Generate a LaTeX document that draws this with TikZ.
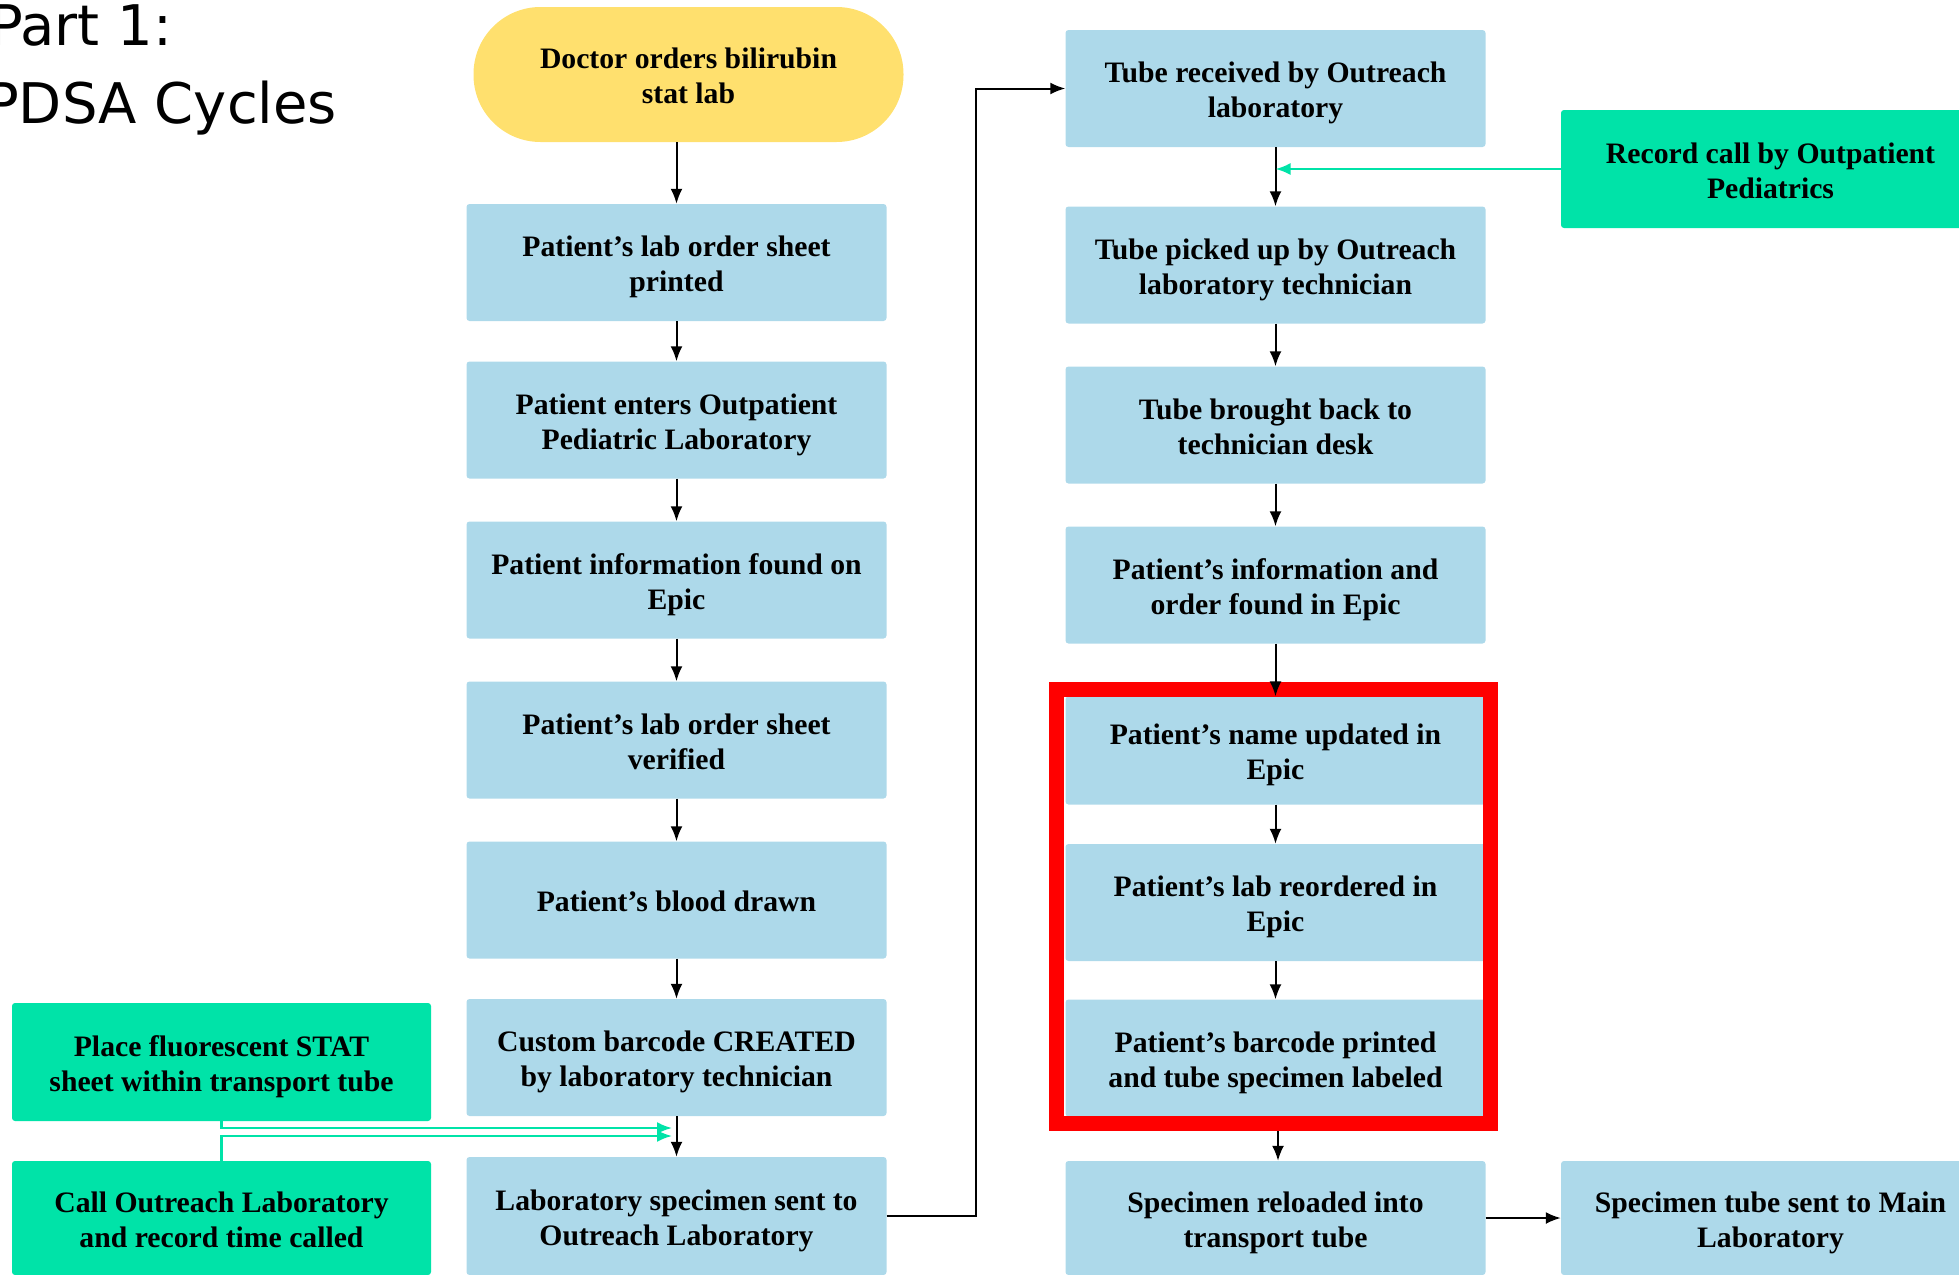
\documentclass[tikz,border=0pt]{standalone}
\usepackage{fontspec}
\setmainfont{Liberation Serif}
\newfontfamily\titlefont{DejaVu Sans}
\usetikzlibrary{arrows.meta}
\definecolor{boxblue}{RGB}{173,217,234}
\definecolor{boxgreen}{RGB}{0,227,168}
\definecolor{ovalyellow}{RGB}{255,224,110}
\newcommand{\twolines}[2]{\rule{0pt}{32pt}#1\\#2\rule[-9pt]{0pt}{9pt}}
\newcommand{\oneline}[1]{\rule{0pt}{32pt}#1\rule[-9pt]{0pt}{9pt}}

\begin{document}
\begin{tikzpicture} [x=1pt, y=-1pt,
  flow/.style={rectangle, rounded corners=3pt, fill=boxblue, minimum width=420pt,
    minimum height=117pt, inner sep=0pt, align=center,
    font=\bfseries\fontsize{29.7}{35}\selectfont},
  greenbox/.style={flow, fill=boxgreen},
  arr/.style={-{Latex[length=15pt,width=12pt]}, line width=2pt},
  garr/.style={arr, draw=boxgreen, line width=2.2pt}]
\clip (0,0) rectangle (1959,1274);
\coordinate (A) at (688.5,74.5);
\coordinate (B) at (676.5,262.5);
\coordinate (C) at (676.5,420);
\coordinate (D) at (676.5,580);
\coordinate (E) at (676.5,740);
\coordinate (F) at (676.5,900);
\coordinate (G) at (676.5,1057.5);
\coordinate (H) at (676.5,1216);
\coordinate (I) at (1275.5,88.5);
\coordinate (J) at (1275.5,265);
\coordinate (K) at (1275.5,425);
\coordinate (L) at (1275.5,585);
\coordinate (M) at (1275.5,750.5);
\coordinate (N) at (1275.5,902.5);
\coordinate (O) at (1275.5,1058);
\coordinate (P) at (1275.5,1218);
\coordinate (Q) at (1770.5,169);
\coordinate (R) at (1770.5,1218);
\coordinate (S) at (221.5,1062);
\coordinate (T) at (221.5,1218);
\coordinate (U) at (976,88.5);
\coordinate (V) at (672,1128);
\coordinate (W) at (672,1136);

\node [anchor=base west, inner sep=0pt, font=\titlefont\fontsize{56}{60}\selectfont] (T1) at (-11,45) {Part 1:};
\node [anchor=base west, inner sep=0pt, font=\titlefont\fontsize{56}{60}\selectfont] (T2) at (-15,123) {PDSA Cycles};

\node [flow, fill=ovalyellow, rounded corners=67pt, minimum width=430pt, minimum height=135pt] (Y) at (A) {\twolines{Doctor orders bilirubin}{stat lab}};
\node [flow] (L1) at (B) {\twolines{Patient’s lab order sheet}{printed}};
\node [flow] (L2) at (C) {\twolines{Patient enters Outpatient}{Pediatric Laboratory}};
\node [flow] (L3) at (D) {\twolines{Patient information found on}{Epic}};
\node [flow] (L4) at (E) {\twolines{Patient’s lab order sheet}{verified}};
\node [flow] (L5) at (F) {\oneline{Patient’s blood drawn}};
\node [flow] (L6) at (G) {\twolines{Custom barcode CREATED}{by laboratory technician}};
\node [flow, minimum height=118pt] (L7) at (H) {\twolines{Laboratory specimen sent to}{Outreach Laboratory}};
\node [flow] (R1) at (I) {\twolines{Tube received by Outreach}{laboratory}};
\node [flow] (R2) at (J) {\twolines{Tube picked up by Outreach}{laboratory technician}};
\node [flow] (R3) at (K) {\twolines{Tube brought back to}{technician desk}};
\node [flow] (R4) at (L) {\twolines{Patient’s information and}{order found in Epic}};
\node [flow, minimum height=108pt] (R5) at (M) {\twolines{Patient’s name updated in}{Epic}};
\node [flow] (R6) at (N) {\twolines{Patient’s lab reordered in}{Epic}};
\node [flow] (R7) at (O) {\twolines{Patient’s barcode printed}{and tube specimen labeled}};
\node [flow, minimum height=114pt] (R8) at (P) {\twolines{Specimen reloaded into}{transport tube}};
\node [greenbox, minimum width=419pt, minimum height=118pt] (G3) at (Q) {\twolines{Record call by Outpatient}{Pediatrics}};
\node [flow, minimum width=419pt, minimum height=114pt] (R9) at (R) {\twolines{Specimen tube sent to Main}{Laboratory}};
\node [greenbox, minimum width=419pt, minimum height=118pt] (G1) at (S) {\twolines{Place fluorescent STAT}{sheet within transport tube}};
\node [greenbox, minimum width=419pt, minimum height=114pt] (G2) at (T) {\twolines{Call Outreach Laboratory}{and record time called}};

\draw [red, line width=15pt] (1056.5,689) rectangle (1490.5,1123.5);

\draw [arr] (Y.south -| L1.north) -- (L1.north);
\draw [arr] (L1) -- (L2);
\draw [arr] (L2) -- (L3);
\draw [arr] (L3) -- (L4);
\draw [arr] (L4) -- (L5);
\draw [arr] (L5) -- (L6);
\draw [arr] (L6) -- (L7);
\draw [arr] (L7.east) -| (U) -- (R1.west);
\draw [arr] (R1) -- (R2);
\draw [arr] (R2) -- (R3);
\draw [arr] (R3) -- (R4);
\draw [arr] (R4) -- (R5);
\draw [arr] (R5) -- (R6);
\draw [arr] (R6) -- (R7);
\draw [arr] (1278,1131) -- (R8.north -| 1278,0);
\draw [arr] (R8) -- (R9);
\draw [garr] (G3.west) -- (G3.west -| R1.south);
\draw [garr] (G1.south) |- (V);
\draw [garr] (G2.north) |- (W);
\end{tikzpicture}
\end{document}
